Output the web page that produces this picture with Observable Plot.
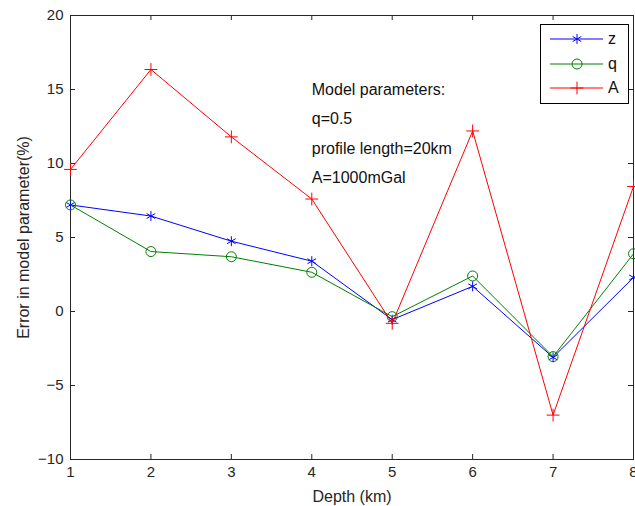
<!DOCTYPE html>
<html>
<head>
<meta charset="utf-8">
<script src="https://cdn.jsdelivr.net/npm/d3@7"></script>
<script src="https://cdn.jsdelivr.net/npm/@observablehq/plot@0.6"></script>
<style>
  body { margin: 0; background: #fff; }
  #wrap { position: relative; width: 635px; height: 506px; font-family: "Liberation Sans", Arial, Helvetica, sans-serif; }
  #legend { position: absolute; left: 540px; top: 24px; width: 87px; height: 78px; border: 1px solid #000; background: #fff; }
  #legend .row { position: absolute; left: 0; height: 20px; display: flex; align-items: center; }
  #legend .row span { font-size: 16px; color: #111; }
</style>
</head>
<body>
<div id="wrap"></div>
<script>
const depths = [1, 2, 3, 4, 5, 6, 7, 8];
const zErr = [7.2, 6.45, 4.75, 3.4, -0.55, 1.7, -3.1, 2.3];
const qErr = [7.2, 4.05, 3.7, 2.65, -0.35, 2.4, -3.05, 3.9];
const aErr = [9.6, 16.35, 11.8, 7.6, -0.8, 12.2, -7.0, 8.45];
const seriesNames = ["z", "q", "A"];
const seriesColors = ["#0000ff", "#008000", "#ff0000"];
const seriesSymbols = ["asterisk", "circle", "plus"];
const xTicks = [1, 2, 3, 4, 5, 6, 7, 8];
const yTicks = [-10, -5, 0, 5, 10, 15, 20];
const xLabel = "Depth (km)";
const yLabel = "Error in model parameter(%)";
const annotLines = ["Model parameters:", "q=0.5", "profile length=20km", "A=1000mGal"];
const annotX = [4, 4, 4, 4];
const annotY = [15, 13, 11, 9];

const seriesValues = [zErr, qErr, aErr];
const data = seriesNames.flatMap((name, i) => depths.map((d, j) => ({series: name, depth: d, value: seriesValues[i][j]})));
const annot = annotLines.map((t, i) => ({text: t, x: annotX[i], y: annotY[i]}));

const W = 635, H = 506, mT = 15, mB = 47, mL = 70, mR = 2;
const innerH = H - mT - mB, innerW = W - mL - mR;
const tickLen = 5;
const axisColor = "#262626";
const symR = {circle: 5, plus: 4.2, asterisk: 4.7};

const marks = [
  Plot.frame({stroke: axisColor, strokeWidth: 1}),
  Plot.tickX(xTicks, {x: d => d, insetTop: innerH - tickLen, stroke: axisColor}),
  Plot.tickX(xTicks, {x: d => d, insetBottom: innerH - tickLen, stroke: axisColor}),
  Plot.tickY(yTicks, {y: d => d, insetRight: innerW - tickLen, stroke: axisColor}),
  Plot.tickY(yTicks, {y: d => d, insetLeft: innerW - tickLen, stroke: axisColor}),
  Plot.axisX({ticks: xTicks, tickSize: 0, tickPadding: 7, tickFormat: d3.format("d"), fontSize: 15, color: axisColor, label: null}),
  Plot.axisY({ticks: yTicks, tickSize: 0, tickPadding: 7, tickFormat: d3.format("d"), fontSize: 15, color: axisColor, label: null}),
  Plot.text([xLabel], {frameAnchor: "bottom", dy: 37, text: d => d, fontSize: 16, fill: axisColor, lineAnchor: "middle", textAnchor: "middle"}),
  Plot.text([yLabel], {frameAnchor: "left", dx: -47, rotate: -90, text: d => d, fontSize: 16, fill: axisColor, textAnchor: "middle", lineAnchor: "middle"}),
  Plot.text(annot, {x: "x", y: "y", text: "text", textAnchor: "start", fontSize: 16, fill: "#111"})
];
seriesNames.forEach((name, i) => {
  const sub = data.filter(d => d.series === name);
  marks.push(Plot.line(sub, {x: "depth", y: "value", stroke: seriesColors[i], strokeWidth: 1}));
  marks.push(Plot.dot(sub, {x: "depth", y: "value", symbol: () => seriesSymbols[i], stroke: seriesColors[i], fill: "none",
    r: symR[seriesSymbols[i]], strokeWidth: 1}));
});

const chart = Plot.plot({
  width: W, height: H, marginTop: mT, marginBottom: mB, marginLeft: mL, marginRight: mR,
  style: {fontFamily: '"Liberation Sans", Arial, Helvetica, sans-serif', background: "#fff", overflow: "visible"},
  x: {domain: [1, 8], label: null},
  y: {domain: [-10, 20], label: null},
  symbol: {type: "identity"},
  marks
});
const wrap = document.getElementById("wrap");
wrap.appendChild(chart);

// legend
const legend = document.createElement("div");
legend.id = "legend";
const symGen = {asterisk: d3.symbolAsterisk, circle: d3.symbolCircle, plus: d3.symbolPlus};
const rowTops = [4, 29, 53];
seriesNames.forEach((name, i) => {
  const r = symR[seriesSymbols[i]];
  const path = d3.symbol(symGen[seriesSymbols[i]], Math.PI * r * r)();
  const row = document.createElement("div");
  row.className = "row";
  row.style.top = rowTops[i] + "px";
  row.innerHTML = `<svg width="58" height="20" style="margin-left:9px"><line x1="0" x2="53" y1="10" y2="10" stroke="${seriesColors[i]}" stroke-width="1"/><path d="${path}" transform="translate(27,10)" fill="none" stroke="${seriesColors[i]}" stroke-width="1"/></svg><span>${name}</span>`;
  legend.appendChild(row);
});
wrap.appendChild(legend);
</script>
</body>
</html>
